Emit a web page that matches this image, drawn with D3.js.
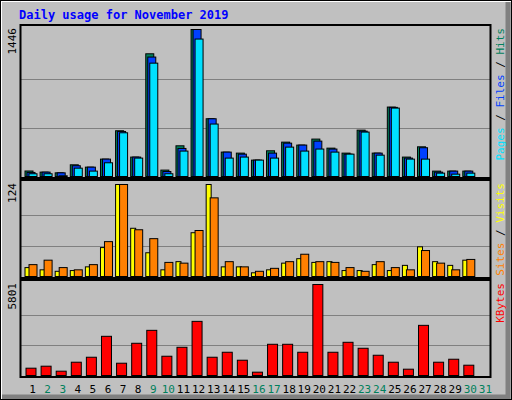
<!DOCTYPE html><html><head><meta charset="utf-8">
<script src="https://cdn.jsdelivr.net/npm/d3@7"></script>
<style>body{margin:0;background:#fff}</style></head><body><svg id="c" width="512" height="400"></svg>
<script>
const days = d3.range(1,32);
const weekend = [2,3,9,10,16,17,23,24,30,31];
const hits  = [54,43,36,115,92,171,450,191,1207,63,302,1446,568,240,230,161,253,338,309,368,279,230,456,230,683,191,292,53,53,53,0];
const files = [40,43,36,106,92,171,443,191,1175,49,276,1446,568,240,220,161,230,328,309,348,270,220,446,230,680,181,283,43,53,53,0];
const pages = [27,27,7,82,53,135,430,181,1115,27,250,1352,516,181,191,161,181,289,250,270,240,220,437,210,673,171,171,33,23,33,0];
const visits= [12,9,7,8,13,39,124,65,32,9,20,59,124,13,13,5,9,18,24,19,20,8,8,16,8,15,40,20,15,22,0];
const sites = [16,22,12,9,16,47,124,63,51,19,18,62,106,20,13,7,11,20,30,20,19,12,7,20,12,9,35,18,9,23,0];
const kbytes= [466,593,275,847,1164,2498,783,2054,2879,1228,1799,3451,1164,1482,974,212,1990,1990,1482,5801,1482,2117,1736,1291,847,402,3197,847,1037,656,0];

const svg = d3.select("#c");
const F = "DejaVu Sans Mono, monospace";
svg.append("rect").attr("width",512).attr("height",400).attr("fill","#C0C0C0");
svg.append("path").attr("d","M1,399V1H511").attr("stroke","#fff").attr("stroke-width",2).attr("fill","none");
svg.append("path").attr("d","M2,397H508V2").attr("stroke","#808080").attr("stroke-width",5).attr("fill","none");
svg.append("rect").attr("x",0.5).attr("y",0.5).attr("width",511).attr("height",399).attr("fill","none").attr("stroke","#000");
svg.append("text").attr("x",19).attr("y",19).attr("font-family",F).attr("font-weight","bold").attr("font-size",12).attr("fill","#0000FF").text("Daily usage for November 2019");

const x = d3.scaleBand().domain(days).range([24.5,492.5]).paddingInner(0).paddingOuter(0);
const L=20.5,R=490.5;

function panel(y0,y1,max,label,vals){
  const y = d3.scaleLinear().domain([0,max]).range([y1-1.5,y0+4.5]);
  [max/3,2*max/3].forEach(v=>svg.append("line").attr("x1",L).attr("x2",R).attr("y1",Math.round(y(v))+.5).attr("y2",Math.round(y(v))+.5).attr("stroke","#808080"));
  svg.append("text").attr("transform",`translate(16,${y0+3}) rotate(-90)`).attr("text-anchor","end").attr("font-family",F).attr("font-size",11).text(max);
  let t = svg.append("text").attr("transform",`translate(504,${y0+3}) rotate(-90)`).attr("text-anchor","end").attr("font-family",F).attr("font-size",11);
  label.forEach(([s,c])=>t.append("tspan").attr("fill",c).text(s));
  vals.forEach(([arr,col,off,w])=>{
    svg.append("g").selectAll("rect").data(arr.map((v,i)=>[days[i],v]).filter(d=>d[1]>0)).join("rect")
      .attr("x",d=>x(d[0])+off).attr("width",w).attr("y",d=>y(d[1])).attr("height",d=>y(0)-y(d[1]))
      .attr("fill",col).attr("stroke","#000").attr("stroke-width",1);
  });
  return y;
}
panel(25,178,1446,[["Pages","#00E0FF"],[" / ","#000"],["Files","#0040FF"],[" / ","#000"],["Hits","#00805C"]],
  [[hits,"#00805C",0.5,8],[files,"#0040FF",2.5,8],[pages,"#00E0FF",4.5,8]]);
panel(180,278,124,[["Sites","#FF8000"],[" / ","#000"],["Visits","#FFFF00"]],
  [[visits,"#FFFF00",0.5,5],[sites,"#FF8000",4.5,8]]);
panel(280,377,5801,[["KBytes","#FF0000"]],[[kbytes,"#FF0000",1.5,10]]);

[[25,178],[180,278],[280,377]].forEach(([a,b])=>svg.append("rect").attr("x",L).attr("y",a).attr("width",R-L).attr("height",b-a).attr("fill","none").attr("stroke","#000").attr("stroke-width",2));
svg.append("g").selectAll("text").data(days).join("text").attr("x",d=>x(d)+8).attr("y",393).attr("text-anchor","middle")
  .attr("font-family",F).attr("font-size",11).attr("fill",d=>weekend.includes(d)?"#00805C":"#000").text(d=>d);
</script></body></html>
